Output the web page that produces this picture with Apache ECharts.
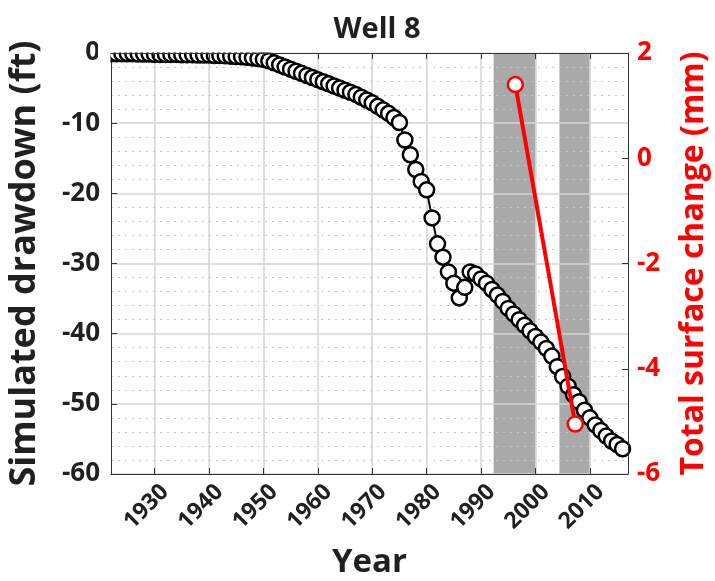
<!DOCTYPE html>
<html><head><meta charset="utf-8">
<script src="https://cdn.jsdelivr.net/npm/echarts@6/dist/echarts.min.js"></script>
<style>html,body{margin:0;padding:0;background:#fff}#c{width:715px;height:581px}</style>
</head><body><div id="c"></div>
<script>
// ---- data ----
const years = [1922,1923,1924,1925,1926,1927,1928,1929,1930,1931,1932,1933,1934,1935,1936,1937,1938,1939,1940,
  1941,1942,1943,1944,1945,1946,1947,1948,1949,1950,1951,1952,1953,1954,1955,1956,1957,1958,1959,1960,
  1961,1962,1963,1964,1965,1966,1967,1968,1969,1970,1971,1972,1973,1974,1975,1976,1977,1978,1979,1980,
  1981,1982,1983,1984,1985,1986,1987,1988,1989,1990,1991,1992,1993,1994,1995,1996,1997,1998,1999,2000,
  2001,2002,2003,2004,2005,2006,2007,2008,2009,2010,2011,2012,2013,2014,2015,2016];
const drawdown = [-0.1,-0.1,-0.1,-0.1,-0.1,-0.15,-0.15,-0.15,-0.2,-0.2,-0.2,-0.2,-0.2,-0.25,-0.25,-0.25,-0.3,-0.3,-0.3,
  -0.35,-0.35,-0.4,-0.45,-0.5,-0.55,-0.6,-0.7,-0.8,-0.9,-1.1,-1.4,-1.7,-2.0,-2.3,-2.6,-2.9,-3.2,-3.5,-3.8,
  -4.1,-4.4,-4.7,-5.0,-5.3,-5.6,-5.9,-6.3,-6.7,-7.1,-7.6,-8.1,-8.6,-9.2,-9.9,-12.4,-14.5,-16.6,-18.3,-19.5,
  -23.5,-27.2,-29.1,-31.2,-32.8,-34.9,-33.4,-31.2,-31.5,-32.2,-32.8,-33.7,-34.5,-35.4,-36.4,-37.2,-38.0,-38.8,-39.6,-40.4,
  -41.2,-42.1,-43.2,-44.7,-46.1,-47.5,-48.7,-49.7,-50.9,-52.0,-53.0,-53.8,-54.6,-55.3,-55.8,-56.4];
const surfYears = [1996.3, 2007.3];
const surfChange = [1.4, -5.05];
const bandStart = [1992.3, 2004.4];
const bandEnd = [2000, 2010];
const xTickLabels = [1930,1940,1950,1960,1970,1980,1990,2000,2010];
const yLeftMin = -60, yLeftMax = 0, yLeftStep = 10;
const yRightMin = -6, yRightMax = 2, yRightStep = 2;
const xMin = 1922, xMax = 2017;

// ---- chart ----
const FONT = '"Open Sans", "DejaVu Sans", sans-serif';
const TXT = '#231f20';
const RED = '#ff0000';
const chart = echarts.init(document.getElementById('c'), null, {renderer: 'canvas'});
const mainData = years.map((y, i) => [y, drawdown[i]]);
const surfData = surfYears.map((y, i) => [y, surfChange[i]]);
const bandData = bandStart.map((s, i) => [s, bandEnd[i]]);

chart.setOption({
  animation: false,
  backgroundColor: '#fff',
  title: {text: 'Well 8', left: 372, top: 10, textAlign: 'center',
    textStyle: {fontFamily: FONT, fontWeight: 'bold', fontSize: 29, color: TXT}},
  grid: {left: 111, right: 87, top: 53, bottom: 107, containLabel: false, outerBoundsMode: 'none'},
  xAxis: [{
    type: 'value', min: xMin, max: xMax, z: 1.5,
    name: 'Year', nameLocation: 'middle', nameGap: 72,
    nameTextStyle: {fontFamily: FONT, fontWeight: 'bold', fontSize: 33, color: TXT},
    axisLine: {show: true, onZero: false, lineStyle: {color: '#333', width: 1}},
    axisTick: {show: true, inside: true, length: 6, customValues: xTickLabels, lineStyle: {color: '#333'}},
    axisLabel: {customValues: xTickLabels, rotate: 45, margin: 41, align: 'center', verticalAlign: 'bottom',
      formatter: function (v) { return String(v); },
      fontFamily: FONT, fontWeight: 'bold', fontSize: 23, color: TXT},
    splitLine: {show: true, lineStyle: {color: '#d4d4d4', width: 1.5}}
  }, {
    type: 'value', min: xMin, max: xMax, position: 'top', z: 6,
    axisLine: {show: true, onZero: false, lineStyle: {color: '#333', width: 1}},
    axisTick: {show: true, inside: true, length: 6, customValues: xTickLabels, lineStyle: {color: '#333'}},
    axisLabel: {show: false}, splitLine: {show: false}
  }],
  yAxis: [{
    type: 'value', min: yLeftMin, max: yLeftMax, interval: yLeftStep, z: 1.5,
    name: 'Simulated drawdown (ft)', nameLocation: 'middle', nameGap: 68,
    nameTextStyle: {fontFamily: FONT, fontWeight: 'bold', fontSize: 36, color: TXT},
    axisLine: {show: true, onZero: false, lineStyle: {color: '#333', width: 1}},
    axisTick: {show: true, inside: true, length: 6, lineStyle: {color: '#333'}},
    axisLabel: {margin: 11, fontFamily: FONT, fontWeight: 'bold', fontSize: 26, color: TXT},
    splitLine: {show: true, lineStyle: {color: '#d4d4d4', width: 1.5}},
    minorTick: {show: false, splitNumber: 5},
    minorSplitLine: {show: true, lineStyle: {color: '#c4c4c4', width: 1, type: [2, 5]}}
  }, {
    type: 'value', min: yRightMin, max: yRightMax, interval: yRightStep, position: 'right', z: 6,
    name: 'Total surface change (mm)', nameLocation: 'middle', nameGap: 50, nameRotate: 90,
    nameTextStyle: {fontFamily: FONT, fontWeight: 'bold', fontSize: 32, color: RED},
    axisLine: {show: true, onZero: false, lineStyle: {color: '#333', width: 1}},
    axisTick: {show: true, inside: true, length: 6, lineStyle: {color: '#333'}},
    axisLabel: {margin: 9, fontFamily: FONT, fontWeight: 'bold', fontSize: 26, color: RED},
    splitLine: {show: false}
  }],
  series: [{
    type: 'custom', xAxisIndex: 0, yAxisIndex: 0, z: 1, silent: true,
    data: bandData,
    renderItem: function (params, api) {
      const p0 = api.coord([api.value(0), yLeftMax]);
      const p1 = api.coord([api.value(1), yLeftMin]);
      return {type: 'rect', shape: {x: p0[0], y: p0[1], width: p1[0] - p0[0], height: p1[1] - p0[1]},
        style: {fill: '#a9a9a9'}};
    }
  }, {
    type: 'line', xAxisIndex: 0, yAxisIndex: 0, z: 3, data: mainData,
    symbol: 'circle', symbolSize: 15, showAllSymbol: true, clip: false,
    lineStyle: {color: '#000', width: 2},
    itemStyle: {color: '#fff', borderColor: '#000', borderWidth: 2.5}
  }, {
    type: 'line', xAxisIndex: 0, yAxisIndex: 1, z: 4, data: surfData,
    symbol: 'circle', symbolSize: 15,
    lineStyle: {color: RED, width: 4},
    itemStyle: {color: '#fff', borderColor: RED, borderWidth: 2.5}
  }],
  graphic: [
    {type: 'rect', z: 5, silent: true, shape: {x: 100, y: 44, width: 540, height: 8.5}, style: {fill: '#fff'}},
    {type: 'rect', z: 5, silent: true, shape: {x: 98, y: 44, width: 12.5, height: 30}, style: {fill: '#fff'}}
  ]
});
</script></body></html>
